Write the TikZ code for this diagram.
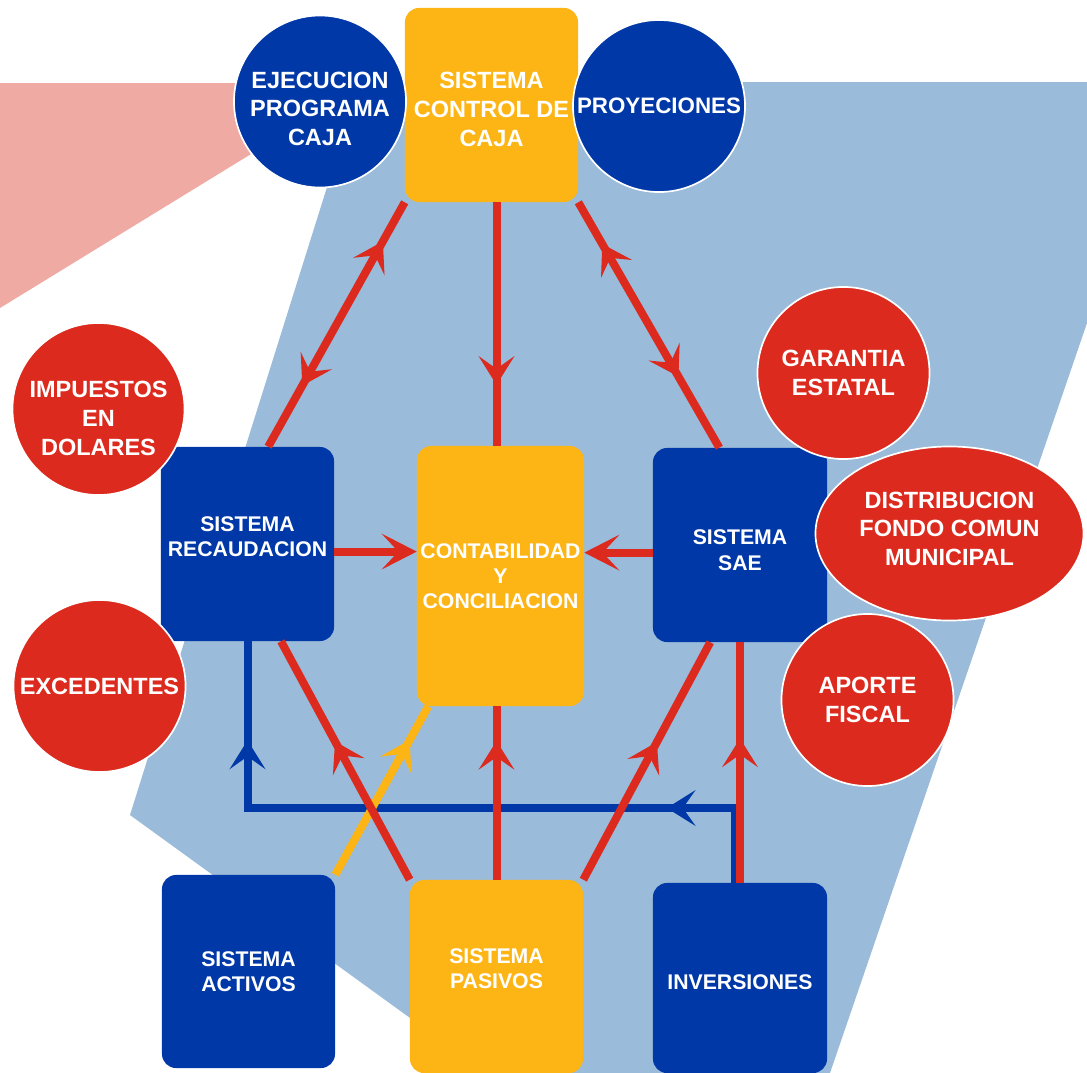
\documentclass[tikz,border=0pt]{standalone}
\usepackage{fontspec}
\setmainfont{Liberation Sans}
\usetikzlibrary{arrows.meta,calc,decorations.markings,shapes.geometric}
\definecolor{CajaNavy}{HTML}{0038A8}
\definecolor{CajaGold}{HTML}{FDB515}
\definecolor{CajaRed}{HTML}{DC2A1E}
\definecolor{CajaSky}{HTML}{9ABBD9}
\definecolor{CajaPink}{HTML}{F0AAA4}
\newcommand{\boxfont}{\fontsize{15.1}{17.9}\selectfont\bfseries}
\newcommand{\bubblefont}{\fontsize{16.7}{20.3}\selectfont\bfseries}
\tikzset{
  midtip/.tip={Stealth[length=0.72cm,width=0.9cm,inset=0.32cm,line width=0pt]},
  endtip/.tip={Stealth[length=0.88cm,width=0.9cm,inset=0.42cm,line width=0pt]}
}

\begin{document}
\begin{tikzpicture}[x=0.025cm, y=-0.025cm,
    box/.style={rounded corners=10pt, minimum width=4.325cm, minimum height=4.85cm, inner sep=0pt, align=center, text=white, font=\boxfont},
    bubble/.style={circle, draw=white, line width=1.2pt, minimum size=4.3cm, inner sep=0pt, align=center, text=white, font=\bubblefont},
    link/.style={line width=0.2cm, draw=CajaRed},
    fwd/.style={postaction={decorate, decoration={markings, mark=at position #1 with {\arrow{midtip}}}}},
    bwd/.style={postaction={decorate, decoration={markings, mark=at position #1 with {\arrowreversed{midtip}}}}}]
    \useasboundingbox (0,0) rectangle (1087,1073);
    \fill[white] (0,0) rectangle (1087,1073);

    % backdrop
    \fill[CajaPink] (0,83) -- (300,83) -- (300,124) -- (0,308) -- cycle;
    \fill[CajaSky] (360,82) -- (1087,82) -- (1087,323) -- (830,1073) -- (486,1073) -- (130,815) -- cycle;

    % systems
    \node[box, fill=CajaGold, font=\bubblefont, text height=58.5pt] (ctrl) at (491.5,105) {SISTEMA\\CONTROL DE\\CAJA};
    \node[box, fill=CajaNavy, text depth=11pt] (rec) at (247.5,544) {SISTEMA\\RECAUDACION};
    \node[box, fill=CajaGold, minimum width=4.175cm, minimum height=6.5cm] (cont) at (500.5,576) {CONTABILIDAD\\Y\\CONCILIACION};
    \node[box, fill=CajaNavy, minimum width=4.35cm, text height=35.8pt] (sae) at (740,545) {SISTEMA\\SAE};
    \node[box, fill=CajaNavy, minimum height=4.825cm] (act) at (248.5,971.5) {SISTEMA\\ACTIVOS};
    \node[box, fill=CajaGold, minimum height=4.825cm, text depth=11pt] (pas) at (496.5,976.5) {SISTEMA\\PASIVOS};
    \node[box, fill=CajaNavy, minimum width=4.35cm, minimum height=4.75cm, text height=16.6pt] (inv) at (740,978) {INVERSIONES};

    % flows
    \coordinate (bend) at (247.5,808);
    \draw[link, draw=CajaNavy, fwd=0.196, fwd=0.864] (inv.93) |- (bend) -- (rec.south);
    \draw[link, draw=CajaGold, fwd=0.8] (act.north east) -- (cont.241);
    \draw[link, fwd=0.84, bwd=0.25] (rec.78) -- (ctrl.south west);
    \draw[link, fwd=0.75] (ctrl.south -| pas.north) -- (cont.north -| pas.north);
    \draw[link, bwd=0.17, fwd=0.71] (ctrl.south east) -- (sae.102);
    \draw[link, -endtip] (rec.355) -- (rec.355 -| cont.west);
    \draw[link, -endtip] (sae.185) -- (sae.185 -| cont.east);
    \draw[link, fwd=0.58] (pas.north west) -- (rec.289);
    \draw[link, fwd=0.8] (pas.north) -- (cont.south -| pas.north);
    \draw[link, fwd=0.58] (pas.north east) -- (sae.253);
    \draw[link, fwd=0.6] (inv.north) -- (inv.north |- sae.south);

    % sources
    \node[bubble, fill=CajaNavy, text height=62.7pt] (ejec) at (320,101.5) {EJECUCION\\PROGRAMA\\CAJA};
    \node[bubble, fill=CajaNavy, font=\fontsize{15.9}{19}\selectfont\bfseries] (proy) at (659,106) {PROYECIONES};
    \node[bubble, fill=CajaRed, text height=65.6pt] (imp) at (98.5,409) {IMPUESTOS\\EN\\DOLARES};
    \node[bubble, fill=CajaRed] (gar) at (843.5,373) {GARANTIA\\ESTATAL};
    \node[bubble, fill=CajaRed, ellipse, minimum width=6.7cm, minimum height=4.35cm, text depth=7pt] (dist) at (949.5,533.5) {DISTRIBUCION\\FONDO COMUN\\MUNICIPAL};
    \node[bubble, fill=CajaRed] (exc) at (99.5,686) {EXCEDENTES};
    \node[bubble, fill=CajaRed] (apo) at (867.5,700) {APORTE\\FISCAL};
\end{tikzpicture}
\end{document}
